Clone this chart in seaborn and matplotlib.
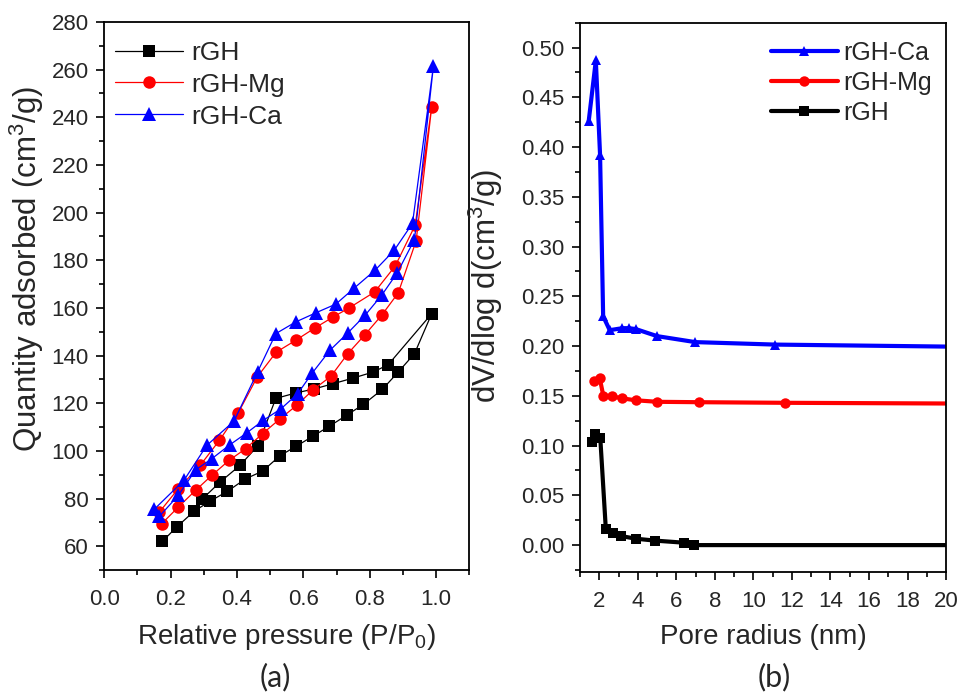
import matplotlib
matplotlib.use("Agg")
import matplotlib.pyplot as plt
import seaborn as sns
import pandas as pd
from matplotlib.ticker import MultipleLocator, FormatStrFormatter

# ---------------- data: (a) N2 isotherms (adsorption then desorption) -------------
rgh_p = [0.175, 0.218, 0.271, 0.319, 0.371, 0.425, 0.477, 0.530, 0.578, 0.628, 0.678,
         0.731, 0.781, 0.838, 0.886, 0.935, 0.987,
         0.856, 0.811, 0.751, 0.690, 0.633, 0.577, 0.517, 0.462, 0.409, 0.349, 0.294]
rgh_q = [62.0, 68.0, 74.7, 78.9, 83.0, 88.2, 91.5, 98.0, 101.9, 106.1, 110.3,
         115.0, 119.5, 125.8, 133.1, 140.8, 157.6,
         136.2, 133.1, 130.6, 128.2, 126.0, 124.3, 122.0, 102.0, 93.9, 86.9, 79.6]

mg_p = [0.173, 0.223, 0.275, 0.324, 0.376, 0.426, 0.477, 0.530, 0.580, 0.630, 0.683,
        0.734, 0.786, 0.836, 0.886, 0.940, 0.987,
        0.937, 0.877, 0.815, 0.738, 0.690, 0.635, 0.577, 0.518, 0.461, 0.404, 0.347,
        0.289, 0.223, 0.166]
mg_q = [69.4, 76.4, 83.4, 89.7, 96.0, 100.9, 107.2, 113.5, 119.1, 125.7, 131.3,
        140.8, 148.8, 156.9, 166.3, 188.2, 244.5,
        194.7, 177.6, 166.7, 160.0, 156.2, 151.6, 146.4, 141.4, 131.0, 116.0, 104.4,
        93.9, 84.1, 74.3]

ca_p = [0.166, 0.223, 0.276, 0.324, 0.379, 0.429, 0.479, 0.533, 0.583, 0.627, 0.680,
        0.734, 0.786, 0.836, 0.883, 0.935, 0.992,
        0.929, 0.874, 0.816, 0.754, 0.698, 0.637, 0.577, 0.517, 0.462, 0.391, 0.309,
        0.240, 0.150]
ca_q = [72.5, 81.3, 92.1, 96.7, 102.6, 107.5, 112.8, 117.7, 124.0, 132.7, 142.2,
        149.5, 156.9, 165.3, 174.7, 188.7, 261.5,
        195.5, 184.2, 175.8, 168.4, 161.6, 157.9, 154.1, 149.2, 133.1, 112.5, 102.3,
        87.6, 75.4]

# ---------------- data: (b) pore size distribution ----------------
ca_r = [1.45, 1.82, 2.04, 2.20, 2.54, 3.20, 3.55, 3.91, 5.00, 6.98, 11.13, 20.0]
ca_v = [0.426, 0.487, 0.392, 0.230, 0.216, 0.218, 0.218, 0.217, 0.210, 0.204, 0.2015, 0.1995]

mg_r = [1.70, 2.02, 2.21, 2.65, 3.17, 3.91, 5.02, 7.20, 11.65, 20.0]
mg_v = [0.165, 0.168, 0.150, 0.1496, 0.1475, 0.1455, 0.144, 0.1436, 0.143, 0.1423]

rgh_r = [1.60, 1.80, 2.05, 2.34, 2.70, 3.15, 3.91, 4.90, 6.41, 6.92, 20.0]
rgh_v = [0.104, 0.112, 0.108, 0.0158, 0.0117, 0.009, 0.0064, 0.0045, 0.0024, 0.0, 0.0]

# ---------------- style ----------------
sns.set_theme(style="white")
plt.rcParams["font.family"] = ["Liberation Sans", "DejaVu Sans"]
plt.rcParams["mathtext.default"] = "regular"

fig = plt.figure(figsize=(9.6, 7.0), dpi=100)
axL = fig.add_axes([0.1086, 0.1857, 0.3802, 0.7829])
axR = fig.add_axes([0.6042, 0.1829, 0.3813, 0.7847])

def lp(ax, x, y, color, marker, ms, lw, label, markevery=None):
    df = pd.DataFrame({"x": x, "y": y})
    kw = {}
    if markevery is not None:
        kw["markevery"] = markevery
    sns.lineplot(data=df, x="x", y="y", ax=ax, sort=False, estimator=None,
                 color=color, marker=marker, markersize=ms, linewidth=lw,
                 markeredgewidth=0, label=label, **kw)

# (a)
lp(axL, rgh_p, rgh_q, "black", "s", 8, 0.9, "rGH")
lp(axL, mg_p, mg_q, "#ff0000", "o", 9, 0.9, "rGH-Mg")
lp(axL, ca_p, ca_q, "#0000ff", "^", 10, 0.9, "rGH-Ca")

axL.set_xlim(0.0, 1.1)
axL.set_ylim(50, 280)
axL.xaxis.set_major_locator(MultipleLocator(0.2))
axL.xaxis.set_minor_locator(MultipleLocator(0.1))
axL.yaxis.set_major_locator(MultipleLocator(20))
axL.yaxis.set_minor_locator(MultipleLocator(10))
axL.xaxis.set_major_formatter(FormatStrFormatter("%.1f"))
axL.set_xlabel("Relative pressure (P/P$_0$)", fontsize=20)
axL.set_ylabel("Quantity adsorbed (cm$^3$/g)", fontsize=22.5)
axL.xaxis.set_label_coords(0.50, -0.095)
axL.yaxis.set_label_coords(-0.16, 0.55)
axL.legend(loc="upper left", frameon=False, fontsize=19, handlelength=2.6,
           borderaxespad=0.0, labelspacing=0.3, handletextpad=0.3,
           bbox_to_anchor=(0.0, 0.985))

# (b)
nca = len(ca_r) - 1
nmg = len(mg_r) - 1
nrg = len(rgh_r) - 1
lp(axR, ca_r, ca_v, "#0000ff", "^", 7, 3.0, "rGH-Ca", markevery=list(range(nca)))
lp(axR, mg_r, mg_v, "#ff0000", "o", 7.5, 3.0, "rGH-Mg", markevery=list(range(nmg)))
lp(axR, rgh_r, rgh_v, "black", "s", 7, 3.0, "rGH", markevery=list(range(nrg)))

axR.set_xlim(1, 20)
axR.set_ylim(-0.027, 0.525)
axR.xaxis.set_major_locator(MultipleLocator(2))
axR.xaxis.set_minor_locator(MultipleLocator(1))
axR.yaxis.set_major_locator(MultipleLocator(0.05))
axR.yaxis.set_minor_locator(MultipleLocator(0.025))
axR.yaxis.set_major_formatter(FormatStrFormatter("%.2f"))
axR.set_xlabel("Pore radius (nm)", fontsize=20)
axR.set_ylabel("dV/dlog d(cm$^3$/g)", fontsize=22.5)
axR.xaxis.set_label_coords(0.50, -0.095)
axR.yaxis.set_label_coords(-0.205, 0.52)
axR.legend(loc="upper right", frameon=False, fontsize=18, handlelength=2.7,
           borderaxespad=0.1, labelspacing=0.25, handletextpad=0.2,
           bbox_to_anchor=(0.995, 0.99))

for ax in (axL, axR):
    for s in ax.spines.values():
        s.set_visible(True)
        s.set_color("black")
        s.set_linewidth(1.3)
    ax.tick_params(axis="both", which="major", direction="out", length=6, width=1.2,
                   labelsize=16, color="black", bottom=True, left=True, top=False,
                   right=False, pad=5)
    ax.tick_params(axis="both", which="minor", direction="out", length=3.5, width=1.2,
                   color="black", bottom=True, left=True, top=False, right=False)
    ax.tick_params(axis="x", which="major", pad=8)
    ax.set_facecolor("white")

fig.text(0.2865, 0.012, "(a)", ha="center", va="bottom", fontsize=22, family=["Lato", "DejaVu Sans"])
fig.text(0.807, 0.012, "(b)", ha="center", va="bottom", fontsize=22, family=["Lato", "DejaVu Sans"])

fig.savefig("out.png", dpi=100, facecolor="white")
